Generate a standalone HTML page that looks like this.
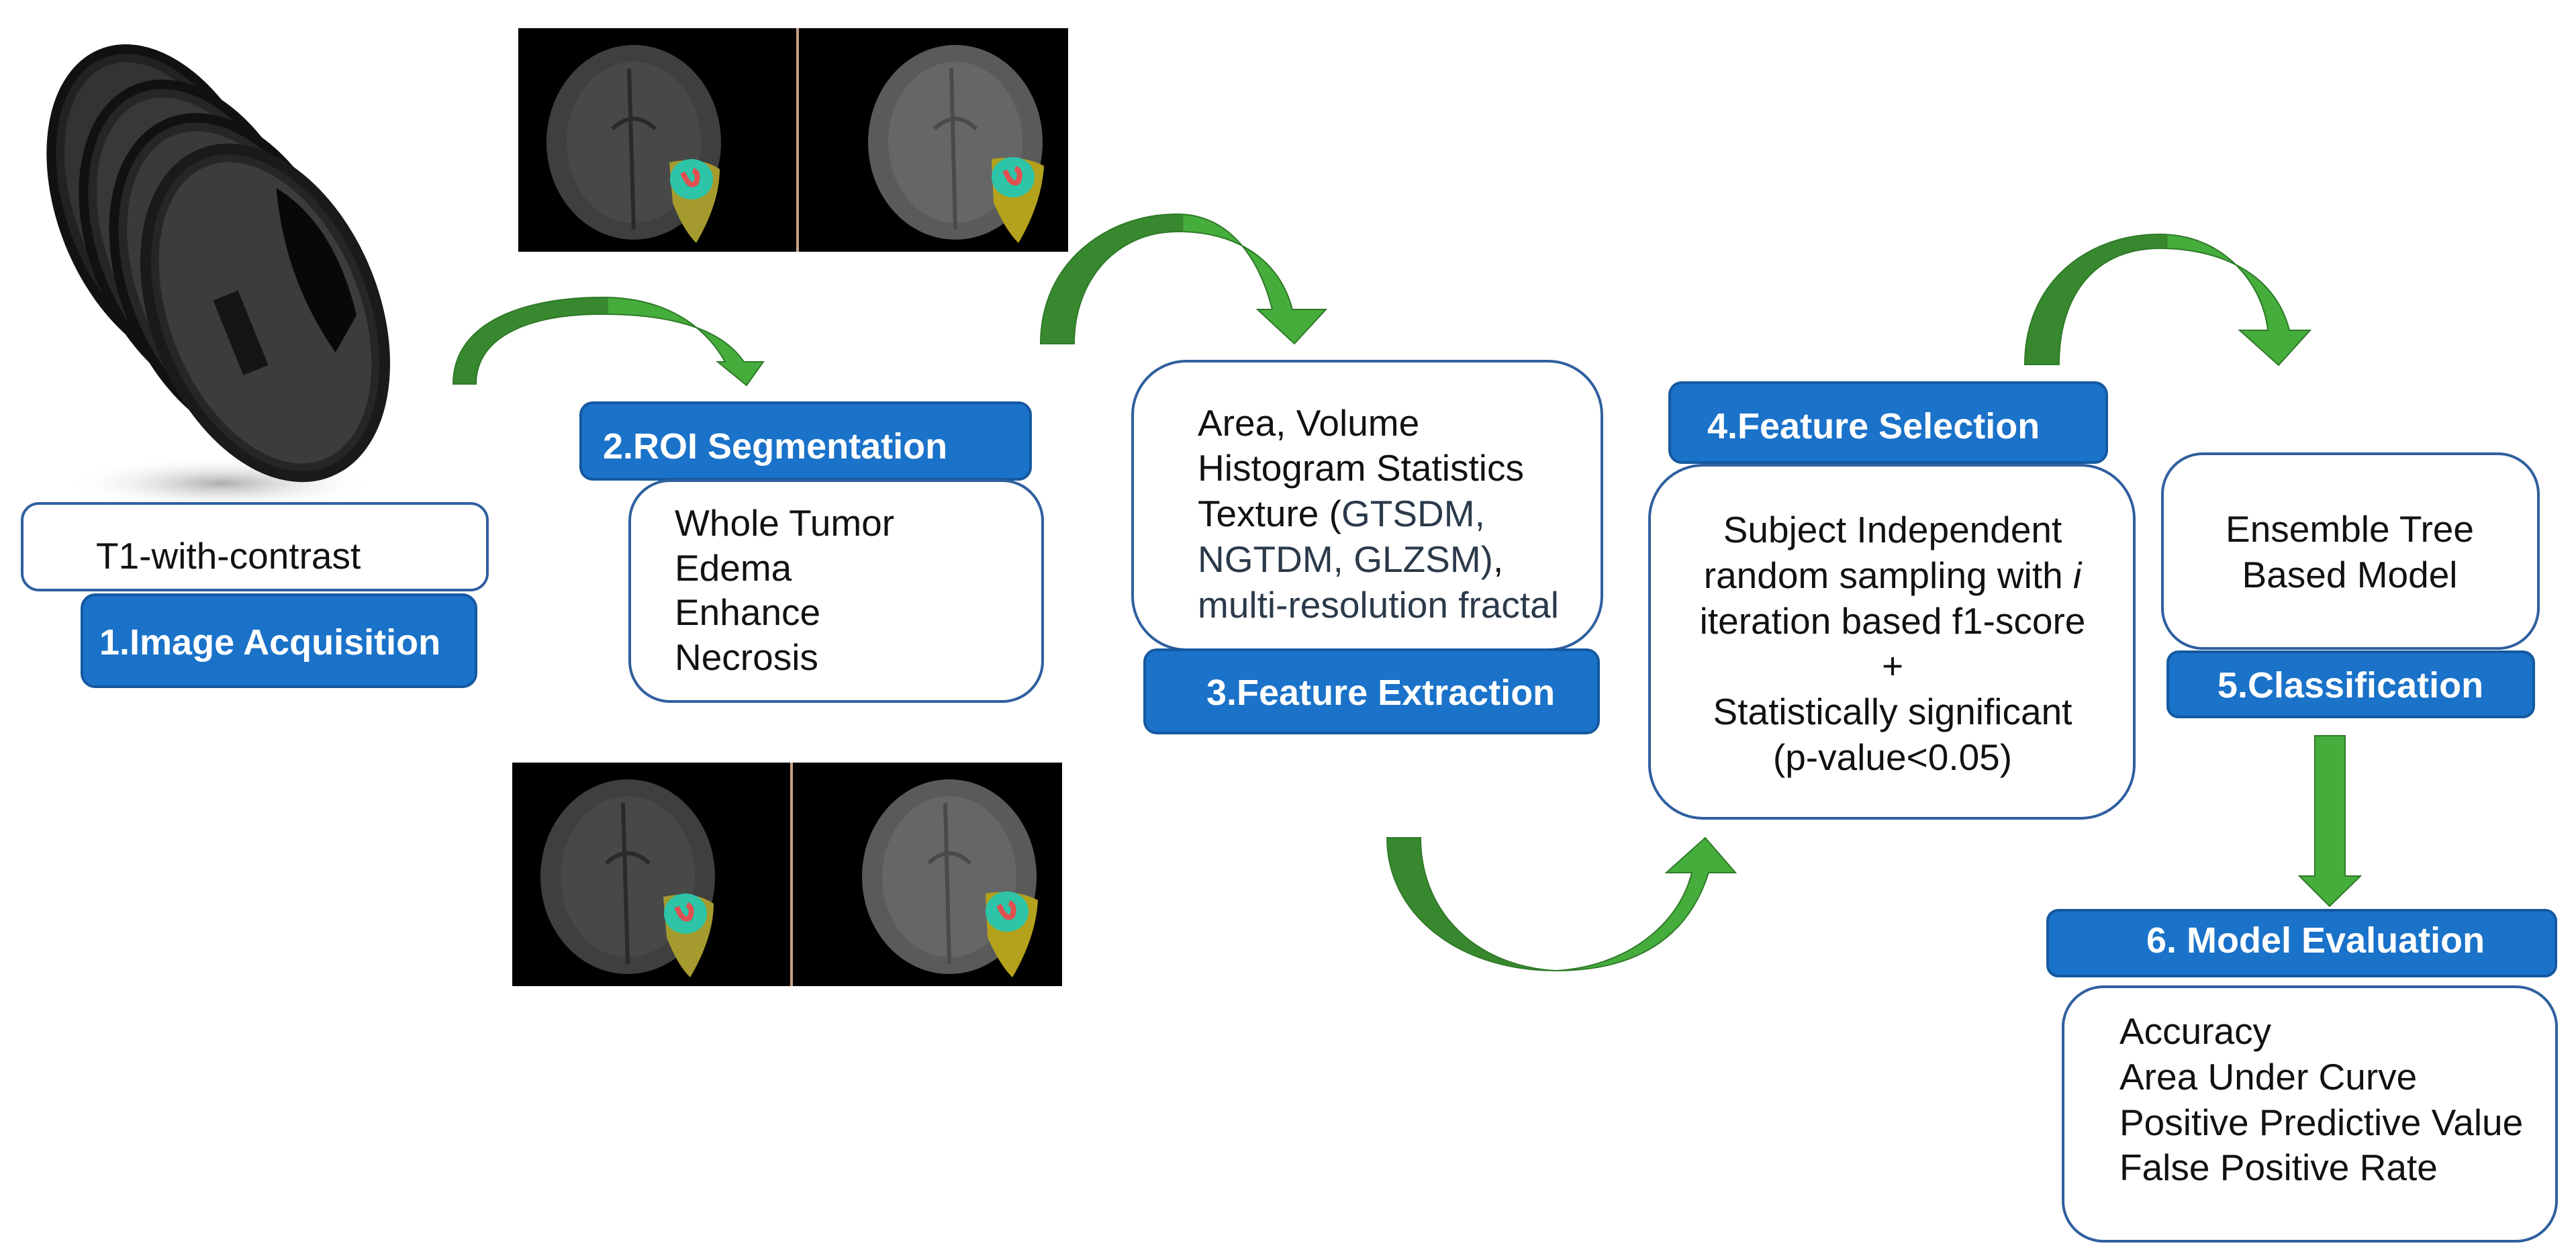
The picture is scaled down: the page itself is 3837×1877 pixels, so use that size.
<!DOCTYPE html>
<html><head><meta charset="utf-8"><style>
html,body{margin:0;padding:0;background:#fff;}
svg{display:block;}
text{font-family:"Liberation Sans",Arial,sans-serif;}
.b{font-size:55px;fill:#111;}
.l{font-size:54px;font-weight:bold;fill:#fff;}
.box{fill:#fff;stroke:#2f5f9f;stroke-width:4;}
.blue{fill:#1a72c9;stroke:#1559a0;stroke-width:4;}
</style></head><body>
<svg width="3837" height="1877" viewBox="0 0 3837 1877" xmlns="http://www.w3.org/2000/svg">
<defs>
<linearGradient id="g1" x1="0" x2="1" y1="0" y2="0"><stop offset="0.5" stop-color="#37882f"/><stop offset="0.5" stop-color="#45ad3c"/></linearGradient>
<radialGradient id="sh" cx="0.5" cy="0.5" r="0.5"><stop offset="0" stop-color="#999" stop-opacity="0.8"/><stop offset="1" stop-color="#fff" stop-opacity="0"/></radialGradient>
<g id="mri">
 <rect x="0" y="0" width="819" height="333" fill="#000"/>
 <rect x="414" y="0" width="4" height="333" fill="#c9a080"/>
 <ellipse cx="172" cy="170" rx="130" ry="145" fill="#3f3f3f"/>
 <ellipse cx="172" cy="170" rx="100" ry="120" fill="#484848"/>
 <path d="M165,60 L172,300 M140,150 Q172,120 204,150" stroke="#2a2a2a" stroke-width="6" fill="none"/>
 <path d="M225,200 Q270,190 300,210 Q300,260 265,320 Q245,300 230,260 Z" fill="#a59a2e"/>
 <ellipse cx="258" cy="225" rx="32" ry="30" fill="#2dc4a8"/>
 <path d="M245,215 Q255,240 265,230 Q270,215 260,212" stroke="#e05050" stroke-width="8" fill="none"/>
 <ellipse cx="651" cy="170" rx="130" ry="145" fill="#5a5a5a"/>
 <ellipse cx="651" cy="170" rx="100" ry="120" fill="#666"/>
 <path d="M645,60 L651,300 M620,150 Q651,120 682,150" stroke="#4a4a4a" stroke-width="6" fill="none"/>
 <path d="M705,195 Q750,188 783,205 Q780,260 745,320 Q725,300 708,260 Z" fill="#b5a21c"/>
 <ellipse cx="737" cy="222" rx="32" ry="30" fill="#2dc4a8"/>
 <path d="M725,212 Q735,237 745,228 Q750,212 740,209" stroke="#e05050" stroke-width="8" fill="none"/>
</g>
</defs>

<!-- brain stack -->
<ellipse cx="330" cy="720" rx="230" ry="40" fill="url(#sh)"/>
<g transform="rotate(-22 243 307)"><ellipse cx="243" cy="307" rx="150" ry="245" fill="#222" stroke="#111" stroke-width="14"/><ellipse cx="243" cy="307" rx="130" ry="225" fill="#333"/></g>
<g transform="rotate(-22 295 360)"><ellipse cx="295" cy="360" rx="155" ry="245" fill="#262626" stroke="#111" stroke-width="14"/><ellipse cx="295" cy="360" rx="135" ry="225" fill="#383838"/></g>
<g transform="rotate(-22 345 415)"><ellipse cx="345" cy="415" rx="160" ry="250" fill="#262626" stroke="#111" stroke-width="14"/><ellipse cx="345" cy="415" rx="140" ry="230" fill="#3a3a3a"/></g>
<g transform="rotate(-22 395 466)"><ellipse cx="395" cy="466" rx="162" ry="255" fill="#262626" stroke="#1a1a1a" stroke-width="16"/><ellipse cx="395" cy="466" rx="142" ry="235" fill="#3c3c3c"/>
<path d="M480,300 Q540,380 520,520 L470,560 Q440,430 480,300Z" fill="#080808"/>
<rect x="330" y="420" width="40" height="120" fill="#151515"/></g>

<!-- MRI images -->
<use href="#mri" x="772" y="42"/>
<use href="#mri" x="763" y="1136"/>

<!-- arrows -->
<path d="M675,572 C675,480 780,443 898,443 C990,443 1050,485 1080,539 L1069,539 L1112,574 L1137,539 L1108,539 C1075,490 1000,468 898,468 C790,468 709,500 709,572 Z" fill="url(#g1)" stroke="#2f7a28" stroke-width="2"/>
<path d="M1550,512 C1550,390 1650,319 1753,319 C1840,319 1880,400 1895,461 L1873,461 L1928,512 L1975,461 L1925,461 C1905,385 1840,345 1755,345 C1660,345 1600,420 1600,512 Z" fill="url(#g1)" stroke="#2f7a28" stroke-width="2"/>
<path d="M2066,1248 C2066,1360 2170,1446 2318,1446 C2420,1440 2500,1380 2520,1300 L2482,1300 L2540,1248 L2585,1300 L2545,1300 C2510,1410 2420,1446 2318,1446 C2200,1440 2116,1360 2116,1248 Z" fill="url(#g1)" stroke="#2f7a28" stroke-width="2"/>
<path d="M3016,543 C3016,420 3110,349 3217,349 C3310,349 3370,420 3378,492 L3336,492 L3394,544 L3441,492 L3410,492 C3390,410 3310,370 3217,370 C3120,370 3067,440 3067,543 Z" fill="url(#g1)" stroke="#2f7a28" stroke-width="2"/>
<path d="M3448,1096 L3493,1096 L3493,1305 L3516,1305 L3470,1350 L3425,1305 L3448,1305 Z" fill="#45ad3c" stroke="#2f7a28" stroke-width="2"/>

<!-- boxes -->
<rect class="box" x="33" y="750" width="693" height="129" rx="25"/>
<rect class="blue" x="122" y="886" width="587" height="137" rx="20"/>
<rect class="blue" x="865" y="600" width="670" height="114" rx="18"/>
<rect class="box" x="938" y="716" width="615" height="329" rx="60"/>
<rect class="box" x="1687" y="538" width="699" height="430" rx="80"/>
<rect class="blue" x="1705" y="968" width="676" height="124" rx="18"/>
<rect class="blue" x="2487" y="570" width="651" height="119" rx="18"/>
<rect class="box" x="2457" y="693" width="722" height="526" rx="80"/>
<rect class="box" x="3221" y="676" width="560" height="290" rx="60"/>
<rect class="blue" x="3229" y="971" width="545" height="97" rx="16"/>
<rect class="blue" x="3050" y="1356" width="757" height="98" rx="16"/>
<rect class="box" x="3073" y="1470" width="735" height="379" rx="60"/>

<!-- text -->
<text class="b" x="143" y="847">T1-with-contrast</text>
<text class="l" x="148" y="975">1.Image Acquisition</text>
<text class="l" x="898" y="683">2.ROI Segmentation</text>
<text class="b" x="1005" y="798">Whole Tumor</text>
<text class="b" x="1005" y="865">Edema</text>
<text class="b" x="1005" y="931">Enhance</text>
<text class="b" x="1005" y="998">Necrosis</text>
<text class="b" x="1784" y="649">Area, Volume</text>
<text class="b" x="1784" y="716">Histogram Statistics</text>
<text class="b" x="1784" y="784">Texture (<tspan fill="#2b3a4a">GTSDM,</tspan></text>
<text class="b" x="1784" y="852" fill="#2b3a4a" style="fill:#2b3a4a">NGTDM, GLZSM)<tspan fill="#111">,</tspan></text>
<text class="b" x="1784" y="920" style="fill:#2b3a4a">multi-resolution fractal</text>
<text class="l" x="1797" y="1050">3.Feature Extraction</text>
<text class="l" x="2543" y="653">4.Feature Selection</text>
<g text-anchor="middle">
<text class="b" x="2819" y="808">Subject Independent</text>
<text class="b" x="2819" y="876">random sampling with <tspan font-style="italic">i</tspan></text>
<text class="b" x="2819" y="944">iteration based f1-score</text>
<text class="b" x="2819" y="1011">+</text>
<text class="b" x="2819" y="1079">Statistically significant</text>
<text class="b" x="2819" y="1147">(p-value&lt;0.05)</text>
<text class="b" x="3500" y="807">Ensemble Tree</text>
<text class="b" x="3500" y="875">Based Model</text>
<text class="l" x="3501" y="1039">5.Classification</text>
</g>
<text class="l" x="3197" y="1419">6. Model Evaluation</text>
<text class="b" x="3157" y="1555">Accuracy</text>
<text class="b" x="3157" y="1623">Area Under Curve</text>
<text class="b" x="3157" y="1691">Positive Predictive Value</text>
<text class="b" x="3157" y="1758">False Positive Rate</text>
</svg>
</body></html>
